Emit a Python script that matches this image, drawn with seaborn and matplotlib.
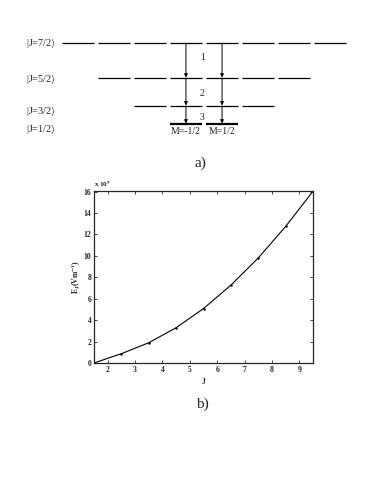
import numpy as np
import matplotlib
matplotlib.use("Agg")
import matplotlib.pyplot as plt
import seaborn as sns

# ---------------- data ----------------
# panel a) : angular-momentum levels (J) and transitions
level_J = [3.5, 2.5, 1.5, 0.5]
level_labels = ["|J=7/2", "|J=5/2", "|J=3/2", "|J=1/2"]
transition_labels = ["1", "2", "3"]
arrow_M = [-0.5, 0.5]
sublevel_labels = ["M=-1/2", "M=1/2"]

# panel b) : E_J versus J  (units of 1e9 V/m)
J_vals = [1.5, 2.5, 3.5, 4.5, 5.5, 6.5, 7.5, 8.5, 9.5]
E_vals = [0.0, 0.87, 1.89, 3.29, 5.08, 7.26, 9.80, 12.74, 16.03]
x_ticks = [2, 3, 4, 5, 6, 7, 8, 9]
y_ticks = [0, 2, 4, 6, 8, 10, 12, 14, 16]

# ---------------- style ----------------
sns.set_style("ticks")
plt.rcParams["font.family"] = ["Liberation Serif", "DejaVu Serif"]
plt.rcParams["mathtext.fontset"] = "stix"

W, H = 382, 494
fig = plt.figure(figsize=(W / 100, H / 100), dpi=100)

# ---------------- panel a) diagram ----------------
# axes spanning the full figure: x in M units, y in pixel rows
slot = 36.1
m0 = 204.0
axa = fig.add_axes([0, 0, 1, 1])
axa.set_xlim(-m0 / slot, (W - m0) / slot)
axa.set_ylim(H, 0)
axa.axis("off")

level_y = [43, 78, 106, 124]          # layout rows of levels
half = 0.445
for J, lab, yy in zip(level_J, level_labels, level_y):
    Ms = np.arange(-J, J + 0.01, 1.0)
    lw = 1.6 if J == 0.5 else 0.9
    for M in Ms:
        axa.plot([M - half, M + half], [yy, yy], color="black", lw=lw,
                 solid_capstyle="butt")
label_x = -4.93
label_y_off = [0, 1, 5, 5]
for lab, yy, off in zip(level_labels, level_y, label_y_off):
    axa.text(label_x, yy + off, lab + r"$\rangle$", fontsize=7.3,
             ha="left", va="center", color="#222222")

# arrows between consecutive levels
label_rows = [57, 93, 117]
for i, tl in enumerate(transition_labels):
    y_top = level_y[i]
    y_bot = level_y[i + 1]
    for M in arrow_M:
        axa.annotate("", xy=(M, y_bot - 0.5), xytext=(M, y_top),
                     arrowprops=dict(arrowstyle="-|>", color="black",
                                     lw=0.7, mutation_scale=5,
                                     shrinkA=0, shrinkB=0))
    axa.text(-0.05, label_rows[i], tl, fontsize=7, ha="center",
             va="center", color="#222222")

for M, s in zip(arrow_M, sublevel_labels):
    axa.text(M, 131, s, fontsize=7, ha="center", va="center",
             color="#222222")

axa.text(-0.1, 163, "a)", fontsize=11, ha="center", va="center")
axa.text(-0.05, 404, "b)", fontsize=11, ha="center", va="center")

# ---------------- panel b) plot ----------------
left, right, top, bottom = 94, 313, 191, 363
axb = fig.add_axes([left / W, 1 - bottom / H, (right - left) / W,
                    (bottom - top) / H])
sns.lineplot(x=J_vals, y=E_vals, ax=axb, color="black", lw=0.8,
             marker="o", markersize=1.8, markeredgewidth=0)
axb.set_xlim(1.5, 9.5)
axb.set_ylim(0, 16.05)
axb.set_xticks(x_ticks)
axb.set_yticks(y_ticks)
axb.set_xticklabels([str(t) for t in x_ticks], fontsize=5.5,
                    fontweight="bold")
axb.set_yticklabels([str(t) for t in y_ticks], fontsize=5.5,
                    fontweight="bold")
axb.tick_params(direction="in", top=True, right=True, length=2.2,
                width=0.6, pad=2)
for sp in axb.spines.values():
    sp.set_linewidth(0.9)
    sp.set_visible(True)
axb.set_xlabel("J", fontsize=5.5, fontweight="bold", labelpad=3)
axb.set_ylabel(r"E$_\mathbf{J}$(Vm$^\mathbf{-1}$)", fontsize=5.5,
               fontweight="bold", labelpad=0.5)
axb.text(0.0, 1.012, r"x 10$^\mathbf{9}$", transform=axb.transAxes,
         fontsize=5, fontweight="bold", ha="left", va="bottom")
axb.set_facecolor("white")

fig.savefig("out.png", dpi=100, facecolor="white")
